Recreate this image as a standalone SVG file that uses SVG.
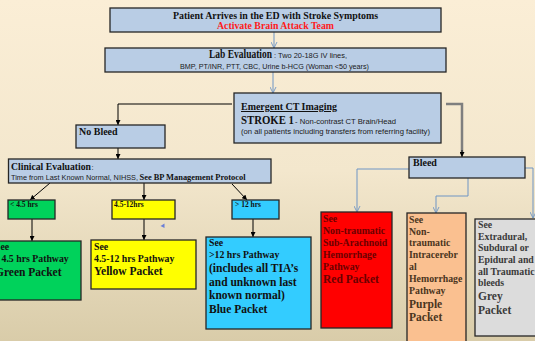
<svg xmlns="http://www.w3.org/2000/svg" width="535" height="341" viewBox="0 0 535 341">
<defs>
<linearGradient id="bg" x1="0" y1="0" x2="0" y2="1">
<stop offset="0" stop-color="#FBEED6"/>
<stop offset="0.5" stop-color="#F3E7CD"/>
<stop offset="1" stop-color="#D9CCA9"/>
</linearGradient>
<marker id="ab" viewBox="0 0 10 10" refX="10" refY="5" markerWidth="5" markerHeight="5" orient="auto" markerUnits="userSpaceOnUse">
<path d="M0,0 L10,5 L0,10 z" fill="#000"/>
</marker>
<marker id="av" viewBox="0 0 10 10" refX="10" refY="5" markerWidth="6" markerHeight="7" orient="auto" markerUnits="userSpaceOnUse">
<path d="M0,0 L10,5 L0,10" fill="none" stroke="#6F95C4" stroke-width="1.5"/>
</marker>
</defs>
<style>
.box{fill:#B9CDE5;stroke:#262626;stroke-width:1.3}
.s{font-family:"Liberation Serif","Times New Roman",serif;font-weight:bold;fill:#111}
.n{font-family:"Liberation Sans",Arial,sans-serif;font-weight:normal;fill:#1a1a1a}
.k{fill:none;stroke:#000;stroke-width:1;marker-end:url(#ab)}
.b{fill:none;stroke:#6F95C4;stroke-width:1;marker-end:url(#av)}
.pk{stroke:#262626;stroke-width:1.3}
</style>
<rect x="0" y="0" width="535" height="341" fill="url(#bg)"/>

<g id="connectors">
<path class="b" d="M274,32 V48"/>
<path class="b" d="M273,72 V93"/>
<path class="k" d="M232,104 H118 V125"/>
<path class="k" d="M118,148 V159"/>
<path class="k" d="M50,183 L30,200"/>
<path class="k" d="M144,183 V200"/>
<path class="k" d="M232,184 L247,200"/>
<path class="k" d="M32,219 V241"/>
<path class="k" d="M144,219 V240"/>
<path class="k" d="M253,219 V237"/>
<path d="M446,104 H462 V152" fill="none" stroke="#7F7F7F" stroke-width="2.5"/>
<path class="k" d="M462,150 V157"/>
<path class="b" d="M409,169 H357 V212"/>
<path class="b" d="M468,178 V196 H436 V213"/>
<path class="b" d="M525,168 H533 V218"/>
</g>

<g id="n-arrive">
<rect class="box" x="110" y="8" width="331" height="24"/>
<text class="s" x="275.5" y="18.5" font-size="10" text-anchor="middle" textLength="205" lengthAdjust="spacingAndGlyphs">Patient Arrives in the ED with Stroke Symptoms</text>
<text class="s" x="275.5" y="29" font-size="10" text-anchor="middle" style="fill:#FF1A1A" textLength="117" lengthAdjust="spacingAndGlyphs">Activate Brain Attack Team</text>
</g>

<g id="n-lab">
<rect class="box" x="105" y="48" width="341" height="24"/>
<text class="s" y="58" font-size="12"><tspan x="209" textLength="63" lengthAdjust="spacingAndGlyphs">Lab Evaluation</tspan><tspan class="n" x="274" font-size="7.5" textLength="73" lengthAdjust="spacingAndGlyphs">: Two 20-18G IV lines,</tspan></text>
<text class="n" x="180" y="68.5" font-size="7.5" textLength="189" lengthAdjust="spacingAndGlyphs">BMP, PT/INR, PTT, CBC, Urine b-HCG (Woman &lt;50 years)</text>
</g>

<g id="n-ct">
<rect class="box" x="234" y="93" width="207" height="50"/>
<text class="s" x="241" y="110" font-size="10" text-decoration="underline" textLength="96" lengthAdjust="spacingAndGlyphs">Emergent CT Imaging</text>
<text class="s" y="124" font-size="11.5"><tspan x="241" textLength="53" lengthAdjust="spacingAndGlyphs">STROKE 1</tspan><tspan class="n" x="295" font-size="7.5" textLength="101" lengthAdjust="spacingAndGlyphs">- Non-contrast CT Brain/Head</tspan></text>
<text class="n" x="241" y="133.5" font-size="7" textLength="189" lengthAdjust="spacingAndGlyphs">(on all patients including transfers from referring facility)</text>
</g>

<g id="n-nobleed">
<rect class="box" x="76" y="125" width="89" height="23"/>
<text class="s" x="79" y="135" font-size="10">No Bleed</text>
</g>

<g id="n-clinical">
<rect class="box" x="8.5" y="159" width="262.5" height="24"/>
<text class="s" y="170" font-size="9.3"><tspan x="11" textLength="80" lengthAdjust="spacingAndGlyphs">Clinical Evaluation</tspan><tspan class="n" x="91.5" font-size="7.5">:</tspan></text>
<text class="n" y="180" font-size="7"><tspan x="11" textLength="127" lengthAdjust="spacingAndGlyphs">Time from Last Known Normal, NIHSS,</tspan><tspan class="s" x="139.5" font-size="8.3" textLength="106" lengthAdjust="spacingAndGlyphs">See BP Management Protocol</tspan></text>
</g>

<g id="n-bleed">
<rect class="box" x="409" y="157" width="116" height="21"/>
<text class="s" x="413" y="165.5" font-size="10">Bleed</text>
</g>

<g id="n-lt45">
<rect class="pk" x="8" y="200" width="47" height="19" fill="#00D25B"/>
<text class="s" x="10" y="207" font-size="7.5">&lt; 4.5 hrs</text>
</g>
<g id="n-45-12">
<rect class="pk" x="112" y="200" width="63" height="19" fill="#FFFF00"/>
<text class="s" x="114" y="207" font-size="7.5">4.5-12hrs</text>
</g>
<g id="n-gt12">
<rect class="pk" x="232" y="200" width="47" height="19" fill="#33CCFF"/>
<text class="s" x="235" y="207" font-size="7.5">&gt; 12 hrs</text>
</g>

<g id="n-green">
<rect class="pk" x="-5" y="241" width="86" height="59" fill="#00D25B"/>
<text class="s" x="-5" y="249.5" font-size="9.8">See</text>
<text class="s" x="1.5" y="262" font-size="9.8">4.5 hrs Pathway</text>
<text class="s" x="-5" y="275.5" font-size="11.5">Green Packet</text>
</g>

<g id="n-yellow">
<rect class="pk" x="91" y="240" width="105" height="49" fill="#FFFF00"/>
<text class="s" x="94" y="250" font-size="9.8">See</text>
<text class="s" x="94" y="262" font-size="9.8">4.5-12 hrs Pathway</text>
<text class="s" x="94" y="274.5" font-size="11.5">Yellow Packet</text>
</g>

<g id="n-blue">
<rect class="pk" x="206" y="237" width="105" height="92" fill="#33CCFF"/>
<text class="s" x="209" y="246" font-size="9.8">See</text>
<text class="s" x="209" y="257.5" font-size="9.8">&gt;12 hrs Pathway</text>
<text class="s" x="209" y="272" font-size="11.5">(includes all TIA’s</text>
<text class="s" x="209" y="285.5" font-size="11.5">and unknown last</text>
<text class="s" x="209" y="299" font-size="11.5">known normal)</text>
<text class="s" x="209" y="313" font-size="11.5">Blue Packet</text>
</g>

<g id="n-red">
<rect class="pk" x="321" y="212" width="71" height="116" fill="#FF0000"/>
<text class="s" x="323" y="222" font-size="9.8" style="fill:#6B0000">See</text>
<text class="s" x="323" y="234" font-size="9.8" style="fill:#6B0000">Non-traumatic</text>
<text class="s" x="323" y="245.5" font-size="9.8" style="fill:#6B0000">Sub-Arachnoid</text>
<text class="s" x="323" y="257.5" font-size="9.8" style="fill:#6B0000">Hemorrhage</text>
<text class="s" x="323" y="269.5" font-size="9.8" style="fill:#6B0000">Pathway</text>
<text class="s" x="323" y="282.5" font-size="11.5" style="fill:#6B0000">Red Packet</text>
</g>

<g id="n-purple">
<rect class="pk" x="407" y="213" width="59" height="140" fill="#FAC090" stroke="#4A3520"/>
<text class="s" x="409" y="223" font-size="9.8" style="fill:#4A3520">See</text>
<text class="s" x="409" y="234.5" font-size="9.8" style="fill:#4A3520">Non-</text>
<text class="s" x="409" y="246" font-size="9.8" style="fill:#4A3520">traumatic</text>
<text class="s" x="409" y="258" font-size="9.8" style="fill:#4A3520">Intracerebr</text>
<text class="s" x="409" y="270" font-size="9.8" style="fill:#4A3520">al</text>
<text class="s" x="409" y="282" font-size="9.8" style="fill:#4A3520">Hemorrhage</text>
<text class="s" x="409" y="293.5" font-size="9.8" style="fill:#4A3520">Pathway</text>
<text class="s" x="409" y="307.5" font-size="11.5" style="fill:#4A3520">Purple</text>
<text class="s" x="409" y="321" font-size="11.5" style="fill:#4A3520">Packet</text>
</g>

<g id="n-grey">
<rect class="pk" x="475" y="219" width="70" height="117" fill="#DCDCDC" stroke="#555"/>
<text class="s" x="478" y="227.5" font-size="9.8" style="fill:#3A3A3A">See</text>
<text class="s" x="478" y="239.5" font-size="9.8" style="fill:#3A3A3A">Extradural,</text>
<text class="s" x="478" y="251" font-size="9.8" style="fill:#3A3A3A">Subdural or</text>
<text class="s" x="478" y="263" font-size="9.8" style="fill:#3A3A3A">Epidural and</text>
<text class="s" x="478" y="274.5" font-size="9.8" style="fill:#3A3A3A">all Traumatic</text>
<text class="s" x="478" y="286" font-size="9.8" style="fill:#3A3A3A">bleeds</text>
<text class="s" x="478" y="300" font-size="11.5" style="fill:#3A3A3A">Grey</text>
<text class="s" x="478" y="313.5" font-size="11.5" style="fill:#3A3A3A">Packet</text>
</g>

<polygon points="160.5,226 164.5,223.5 164.5,228" fill="#6B7FD7"/>
</svg>
